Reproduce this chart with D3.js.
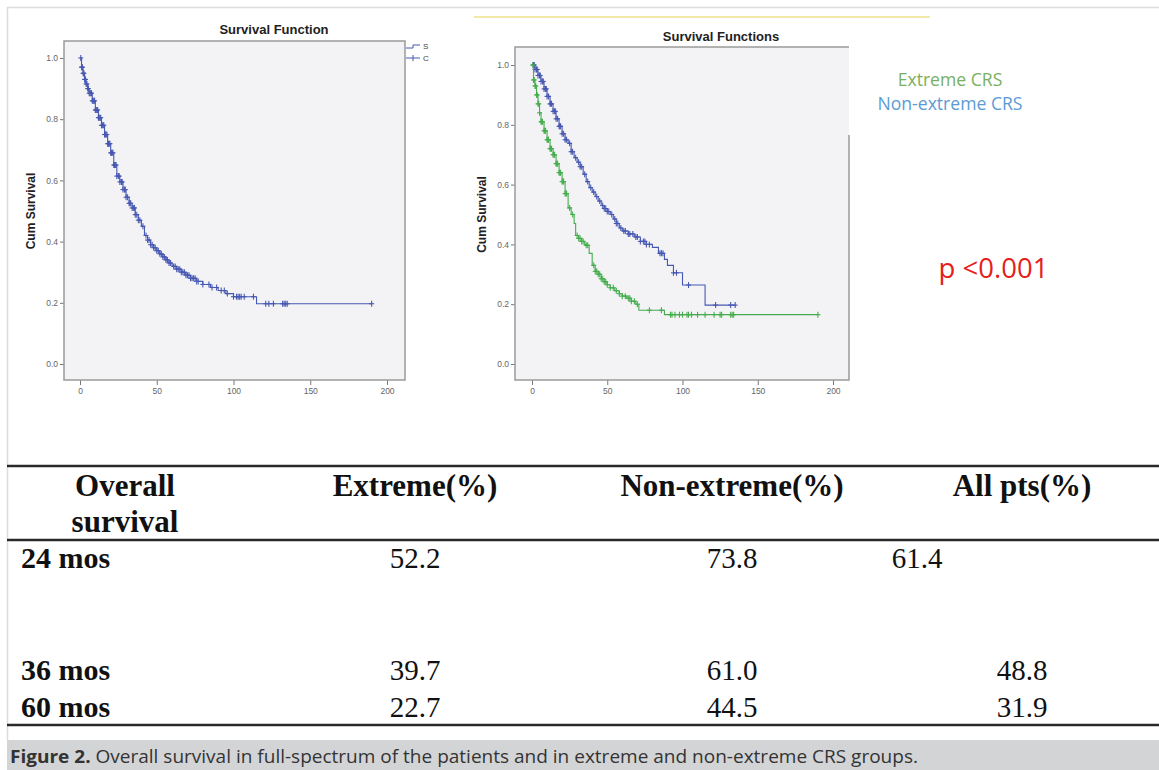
<!DOCTYPE html>
<html><head><meta charset="utf-8">
<script src="https://cdn.jsdelivr.net/npm/d3@7"></script>
<style>body{margin:0;background:#fff}svg{display:block}</style>
</head><body>
<script>
// ---------- DATA ----------
const xTicks = [0, 50, 100, 150, 200];
const yTicks = [0, 0.2, 0.4, 0.6, 0.8, 1.0];

// All patients (left chart)
const allTimes = [0,1,2,3,4,5,6,8,10,12,14,16,18,20,22,24,26,28,30,32,34,36,38,40,42,44,46,48,50,52,54,56,58,60,63,66,69,72,76,80,85,90,95,100,115];
const allSurv  = [1.0,0.97,0.95,0.93,0.915,0.90,0.885,0.86,0.83,0.805,0.78,0.75,0.72,0.69,0.65,0.614,0.595,0.57,0.545,0.525,0.51,0.488,0.47,0.45,0.42,0.405,0.39,0.38,0.37,0.36,0.35,0.34,0.33,0.319,0.31,0.30,0.29,0.28,0.27,0.26,0.25,0.24,0.23,0.22,0.197];
const allCensor = [0.5,1,1.3,1.5,2,2.3,2.5,3,3.3,3.5,4,4.5,5,5.5,6,6.5,7,7.5,8,8.5,9,9.5,10,10.5,11,11.5,12,12.5,13,13.5,14,14.5,15,15.5,16,16.5,17,17.5,18,18.5,19,19.5,20,20.5,21,21.5,22,22.5,23,23.5,24,25,25.5,26,27,27.5,28,29,29.5,30,31,32,32.5,33,34,35,35.5,36,37,38,39,41,43,44,45,46,47,48,49,50,51,52,53,54,55,56,57,58,59,61,62,63,64,65,66,67,68,69,70,71,72,73,74,75,76,77,80,84,86,89,92,94,96,100,102,103,104,105,107,113,121,123,126,132,133,134,135,190];

// Extreme CRS (green)
const extTimes = [0,1,2,3,4,5,6,8,10,12,14,16,18,20,22,24,26,28,29,31,33,35,36,38,40,42,44,46,48,50,52,55,58,60,63,66,69,71,88];
const extSurv  = [1.0,0.95,0.93,0.90,0.87,0.84,0.81,0.78,0.75,0.72,0.70,0.67,0.64,0.61,0.57,0.522,0.50,0.47,0.43,0.42,0.41,0.40,0.397,0.37,0.33,0.31,0.30,0.285,0.275,0.265,0.255,0.245,0.235,0.227,0.22,0.21,0.20,0.18,0.165];
const extCensor = [0.5,1,1.5,2,2.5,3,3.5,4,4.5,5,6,6.5,7,8,8.5,9,10,10.5,11,12,12.5,13,14,14.5,15,16,16.5,17,18,18.5,19,20,20.5,21,22,22.5,23,25,27,30,31,32,33,34,36,37,41,42,43,44,45,46,47,48,49,50,52,54,56,58,60,62,64,65,66,68,70,78,86,92,93,95,98,100,103,104,106,110,115,121,125,126,132,133,134,190];

// Non-extreme CRS (blue)
const nonTimes = [0,2,4,6,8,10,12,14,16,18,20,22,24,26,28,30,32,34,36,38,40,42,44,46,48,50,52,54,56,58,60,64,68,72,76,80,84,88,90,94,100,115];
const nonSurv  = [1.0,0.985,0.965,0.945,0.92,0.895,0.87,0.845,0.82,0.795,0.77,0.75,0.738,0.71,0.69,0.675,0.66,0.635,0.61,0.59,0.575,0.56,0.545,0.53,0.52,0.51,0.50,0.485,0.47,0.455,0.445,0.435,0.425,0.41,0.40,0.39,0.37,0.35,0.33,0.305,0.264,0.197];
const nonCensor = [1,1.5,2,3,3.5,4,5,5.5,6,7,7.5,8,9,9.5,10,11,12,12.5,13,14,15,15.5,16,17,18,18.5,19,20,21,22,23,25,26,27,29,31,32,33,35,37,39,41,43,45,47,48,49,50,51,53,55,56,57,59,61,62,64,65,67,69,70,72,74,75,76,78,85,86,87,94,96,104,122,132,135];

// Table
const tableHeader = ["Overall\nsurvival", "Extreme(%)", "Non-extreme(%)", "All pts(%)"];
const rowLabels = ["24 mos", "36 mos", "60 mos"];
const extremeVals = ["52.2", "39.7", "22.7"];
const nonExtremeVals = ["73.8", "61.0", "44.5"];
const allPtsVals = ["61.4", "48.8", "31.9"];

const caption = ["Figure 2.", " Overall survival in full-spectrum of the patients and in extreme and non-extreme CRS groups."];

// ---------- DRAW ----------
const W = 1159, H = 770;
const svg = d3.select("body").append("svg").attr("width", W).attr("height", H);
svg.append("rect").attr("width", W).attr("height", H).attr("fill", "#fff");

// outer light border
svg.append("line").attr("x1", 7).attr("x2", W).attr("y1", 7.5).attr("y2", 7.5).attr("stroke", "#dcdcdc").attr("stroke-width", 1.5);
svg.append("line").attr("x1", 7.5).attr("x2", 7.5).attr("y1", 7).attr("y2", 740).attr("stroke", "#dcdcdc").attr("stroke-width", 1.5);

// pale yellow line
svg.append("line").attr("x1", 474).attr("x2", 930).attr("y1", 17).attr("y2", 17).attr("stroke", "#f2e9a6").attr("stroke-width", 2);

const BLUE = "#4758b2", GREEN = "#46ad4e";

function survAt(times, surv, t) {
  const i = d3.bisectRight(times, t) - 1;
  return surv[Math.max(0, i)];
}

function drawKM(g, x, y, times, surv, censor, color) {
  const end = d3.max(censor);
  const pts = times.map((t, i) => [t, surv[i]]);
  pts.push([end, surv[surv.length - 1]]);
  const line = d3.line().x(d => x(d[0])).y(d => y(d[1])).curve(d3.curveStepAfter);
  g.append("path").attr("d", line(pts)).attr("fill", "none").attr("stroke", color).attr("stroke-width", 1.1);
  const cg = g.append("g").attr("stroke", color).attr("stroke-width", 1.1);
  censor.forEach(t => {
    const cx = x(t), cy = y(survAt(times, surv, t));
    cg.append("line").attr("x1", cx).attr("x2", cx).attr("y1", cy - 3).attr("y2", cy + 3);
    cg.append("line").attr("x1", cx - 2.5).attr("x2", cx + 2.5).attr("y1", cy).attr("y2", cy);
  });
}

function drawPanel(opts) {
  const { fx0, fx1, fy0, fy1, xr, yr, title, titleX, titleY, ylabX } = opts;
  const g = svg.append("g");
  g.append("rect").attr("x", fx0).attr("y", fy0).attr("width", fx1 - fx0).attr("height", fy1 - fy0)
    .attr("fill", "#f3f3f5");
  const x = d3.scaleLinear().domain([0, 200]).range(xr);
  const y = d3.scaleLinear().domain([0, 1]).range(yr);
  const ya = g.append("g").attr("transform", `translate(${fx0},0)`)
    .call(d3.axisLeft(y).tickValues(yTicks).tickFormat(d3.format(".1f")).tickSize(4).tickPadding(2));
  const xa = g.append("g").attr("transform", `translate(0,${fy1})`)
    .call(d3.axisBottom(x).tickValues(xTicks).tickFormat(d3.format("d")).tickSize(5).tickPadding(3));
  [ya, xa].forEach(a => {
    a.select(".domain").remove();
    a.selectAll(".tick line").attr("stroke", "#777");
    a.selectAll(".tick text").attr("fill", "#666").style("font-family", "Liberation Sans, Arial, sans-serif").style("font-size", "8.5px");
  });
  const frame = opts.frameRightTop != null
    ? `M${fx1},${opts.frameRightTop}L${fx1},${fy1}L${fx0},${fy1}L${fx0},${fy0}L${fx1},${fy0}`
    : `M${fx0},${fy0}H${fx1}V${fy1}H${fx0}Z`;
  g.append("path").attr("d", frame).attr("fill", "none").attr("stroke", "#9a9a9a").attr("stroke-width", 1.5);
  g.append("text").attr("x", titleX).attr("y", titleY).attr("text-anchor", "middle")
    .style("font-family", "Liberation Sans, Arial, sans-serif").style("font-size", "13px").style("font-weight", "bold")
    .attr("fill", "#222").text(title);
  g.append("text").attr("transform", `translate(${ylabX},${(yr[0] + yr[1]) / 2}) rotate(-90)`).attr("text-anchor", "middle")
    .style("font-family", "Liberation Sans, Arial, sans-serif").style("font-size", "12px").style("font-weight", "bold")
    .attr("fill", "#222").text("Cum Survival");
  return { g, x, y };
}

// Left panel
const L = drawPanel({ fx0: 64, fx1: 405, fy0: 41, fy1: 380, xr: [80, 387], yr: [364, 58],
  title: "Survival Function", titleX: 274, titleY: 34, ylabX: 35 });
drawKM(L.g, L.x, L.y, allTimes, allSurv, allCensor, BLUE);
const lg = svg.append("g").attr("stroke", BLUE).attr("fill", "none").attr("stroke-width", 1);
lg.append("path").attr("d", "M406,48H413V45H420");
lg.append("path").attr("d", "M406,58H420M413,55V61");
svg.append("text").attr("x", 423).attr("y", 49).text("S").attr("fill", "#444")
  .style("font-family", "Liberation Sans, Arial, sans-serif").style("font-size", "8px");
svg.append("text").attr("x", 423).attr("y", 61).text("C").attr("fill", "#444")
  .style("font-family", "Liberation Sans, Arial, sans-serif").style("font-size", "8px");

// Right panel
const R = drawPanel({ fx0: 515, fx1: 849, fy0: 47, fy1: 380, xr: [532, 833], yr: [364, 65],
  title: "Survival Functions", titleX: 721, titleY: 41, ylabX: 486, frameRightTop: 135 });
drawKM(R.g, R.x, R.y, nonTimes, nonSurv, nonCensor, BLUE);
drawKM(R.g, R.x, R.y, extTimes, extSurv, extCensor, GREEN);

// Legend texts
svg.append("text").attr("x", 950).attr("y", 86).attr("text-anchor", "middle").attr("fill", "#79b062")
  .style("font-family", "Open Sans, sans-serif").style("font-size", "17.6px").text("Extreme CRS");
svg.append("text").attr("x", 950).attr("y", 110).attr("text-anchor", "middle").attr("fill", "#5b9bd5")
  .style("font-family", "Open Sans, sans-serif").style("font-size", "17.6px").text("Non-extreme CRS");
svg.append("text").attr("x", 993.5).attr("y", 278).attr("text-anchor", "middle").attr("fill", "#e5201b")
  .style("font-family", "Open Sans, sans-serif").style("font-size", "27.5px").text("p <0.001");

// ---------- TABLE ----------
const tg = svg.append("g").style("font-family", "Liberation Serif, 'Times New Roman', serif").attr("fill", "#111");
[466, 540, 725].forEach(yy => {
  tg.append("line").attr("x1", 7).attr("x2", W).attr("y1", yy).attr("y2", yy).attr("stroke", "#2a2a2a").attr("stroke-width", 2.5);
});
const colX = [125, 415, 732, 1022];
tableHeader.forEach((h, i) => {
  const t = tg.append("text").attr("x", colX[i]).attr("y", 496).attr("text-anchor", "middle")
    .style("font-size", "31px").style("font-weight", "bold");
  h.split("\n").forEach((ln, k) => t.append("tspan").attr("x", colX[i]).attr("dy", k ? 36 : 0).text(ln));
});
const rowY = [568, 680, 717];
rowLabels.forEach((r, i) => {
  tg.append("text").attr("x", 21).attr("y", rowY[i]).style("font-size", "30px").style("font-weight", "bold").text(r);
  tg.append("text").attr("x", colX[1]).attr("y", rowY[i]).attr("text-anchor", "middle").style("font-size", "29px").text(extremeVals[i]);
  tg.append("text").attr("x", colX[2]).attr("y", rowY[i]).attr("text-anchor", "middle").style("font-size", "29px").text(nonExtremeVals[i]);
  // first row's "All pts" value is shifted left in the original
  tg.append("text").attr("x", i === 0 ? 917 : colX[3]).attr("y", rowY[i]).attr("text-anchor", "middle").style("font-size", "29px").text(allPtsVals[i]);
});

// ---------- CAPTION ----------
svg.append("rect").attr("x", 7).attr("y", 740).attr("width", W - 7).attr("height", 30).attr("fill", "#d3d4d6");
const ct = svg.append("text").attr("x", 10).attr("y", 763).attr("fill", "#333")
  .style("font-family", "Open Sans, sans-serif").style("font-size", "18.5px")
  .attr("textLength", 908).attr("lengthAdjust", "spacingAndGlyphs");
ct.append("tspan").style("font-weight", "bold").text(caption[0]);
ct.append("tspan").text(caption[1]);
</script>
</body></html>
